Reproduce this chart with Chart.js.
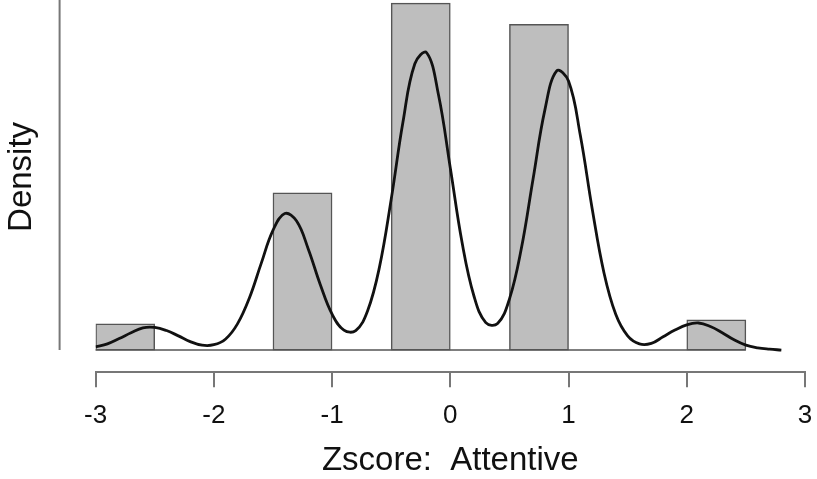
<!DOCTYPE html>
<html>
<head>
<meta charset="utf-8">
<script src="https://cdn.jsdelivr.net/npm/chart.js@4"></script>
<style>
  body { margin: 0; background: #fff; }
</style>
</head>
<body>
<canvas id="myChart" width="817" height="479"></canvas>
<script>
// histogram bins (width 0.5) and their densities
let binEdges = [-3, -2.5, -2, -1.5, -1, -0.5, 0, 0.5, 1, 1.5, 2, 2.5];
let binDensity = [0.059, 0, 0, 0.355, 0, 0.783, 0, 0.735, 0, 0, 0.068];

// kernel density curve
let curveX = [-3.0, -2.9, -2.8, -2.7, -2.6, -2.5, -2.4, -2.3, -2.2, -2.1,
  -2.0, -1.9, -1.8, -1.7, -1.6, -1.5, -1.4, -1.3, -1.2, -1.1,
  -1.0, -0.9, -0.8, -0.7, -0.6, -0.5, -0.4, -0.3, -0.2, -0.1,
  0.0, 0.1, 0.2, 0.3, 0.4, 0.5, 0.6, 0.7, 0.8, 0.9,
  1.0, 1.1, 1.2, 1.3, 1.4, 1.5, 1.6, 1.7, 1.8, 1.9,
  2.0, 2.1, 2.2, 2.3, 2.4, 2.5, 2.6, 2.7, 2.8];
let curveY = [0.007, 0.014, 0.026, 0.039, 0.050, 0.051, 0.044, 0.032, 0.019, 0.011,
  0.012, 0.025, 0.059, 0.117, 0.195, 0.270, 0.308, 0.291, 0.227, 0.148,
  0.081, 0.045, 0.044, 0.088, 0.186, 0.340, 0.515, 0.646, 0.671, 0.576,
  0.411, 0.242, 0.122, 0.062, 0.060, 0.115, 0.228, 0.386, 0.542, 0.630,
  0.607, 0.484, 0.319, 0.174, 0.080, 0.032, 0.014, 0.015, 0.030, 0.045,
  0.057, 0.061, 0.053, 0.039, 0.023, 0.011, 0.005, 0.002, 0.000];

let xTicks = [-3, -2, -1, 0, 1, 2, 3];

let bars = binDensity.map((d, i) => ({ x: (binEdges[i] + binEdges[i + 1]) / 2, y: d }));
let curve = curveX.map((x, i) => ({ x: x, y: curveY[i] }));

// R style extras: flat line for empty bins, detached y axis line
const rLines = {
  id: "rLines",
  beforeDatasetsDraw(chart) {
    const { ctx, chartArea, scales } = chart;
    const x = scales.x, y = scales.y;
    const y0 = y.getPixelForValue(0);
    ctx.save();
    ctx.strokeStyle = "#555";
    ctx.lineWidth = 1.5;
    ctx.beginPath();
    ctx.moveTo(x.getPixelForValue(binEdges[0]), y0);
    ctx.lineTo(x.getPixelForValue(binEdges[binEdges.length - 1]), y0);
    ctx.stroke();

    ctx.strokeStyle = "#777";
    ctx.lineWidth = 2;
    ctx.beginPath();
    ctx.moveTo(chartArea.left - 36, chartArea.top);
    ctx.lineTo(chartArea.left - 36, y0);
    ctx.stroke();
    ctx.restore();
  }
};

let ctx = document.getElementById("myChart").getContext("2d");
let chart = new Chart(ctx, {
  type: "bar",
  data: {
    datasets: [
      {
        type: "line",
        data: curve,
        borderColor: "#111",
        borderWidth: 2.8,
        pointRadius: 0,
        tension: 0.4,
        fill: false,
        order: 0
      },
      {
        type: "bar",
        data: bars,
        backgroundColor: "#bebebe",
        borderColor: "#555",
        borderWidth: 1.5,
        borderSkipped: false,
        barPercentage: 1,
        categoryPercentage: 1,
        order: 1
      }
    ]
  },
  options: {
    responsive: false,
    animation: false,
    layout: { padding: { left: 0, right: 0, top: 0, bottom: 0 } },
    plugins: { legend: { display: false }, tooltip: { enabled: false } },
    scales: {
      x: {
        type: "linear",
        min: -3,
        max: 3,
        offset: false,
        afterBuildTicks: (scale) => { scale.ticks = xTicks.map(v => ({ value: v })); },
        afterFit: (scale) => { scale.paddingRight = 12; },
        border: { display: true, color: "#777", width: 2 },
        grid: { offset: false, drawOnChartArea: false, drawTicks: true, tickLength: 15, color: "#777", lineWidth: 2 },
        ticks: { color: "#111", padding: 13, font: { family: "Liberation Sans", size: 26 } },
        title: {
          display: true,
          text: "Zscore:  Attentive",
          color: "#111",
          padding: { top: -3, bottom: -2 },
          font: { family: "Liberation Sans", size: 33 }
        }
      },
      y: {
        min: -0.05,
        max: 0.79,
        border: { display: false },
        grid: { display: false, drawTicks: false },
        ticks: { display: false },
        title: {
          display: true,
          text: "  Density",
          color: "#111",
          padding: { top: 2, bottom: 54 },
          font: { family: "Liberation Sans", size: 33 }
        }
      }
    }
  },
  plugins: [rLines]
});
</script>
</body>
</html>
